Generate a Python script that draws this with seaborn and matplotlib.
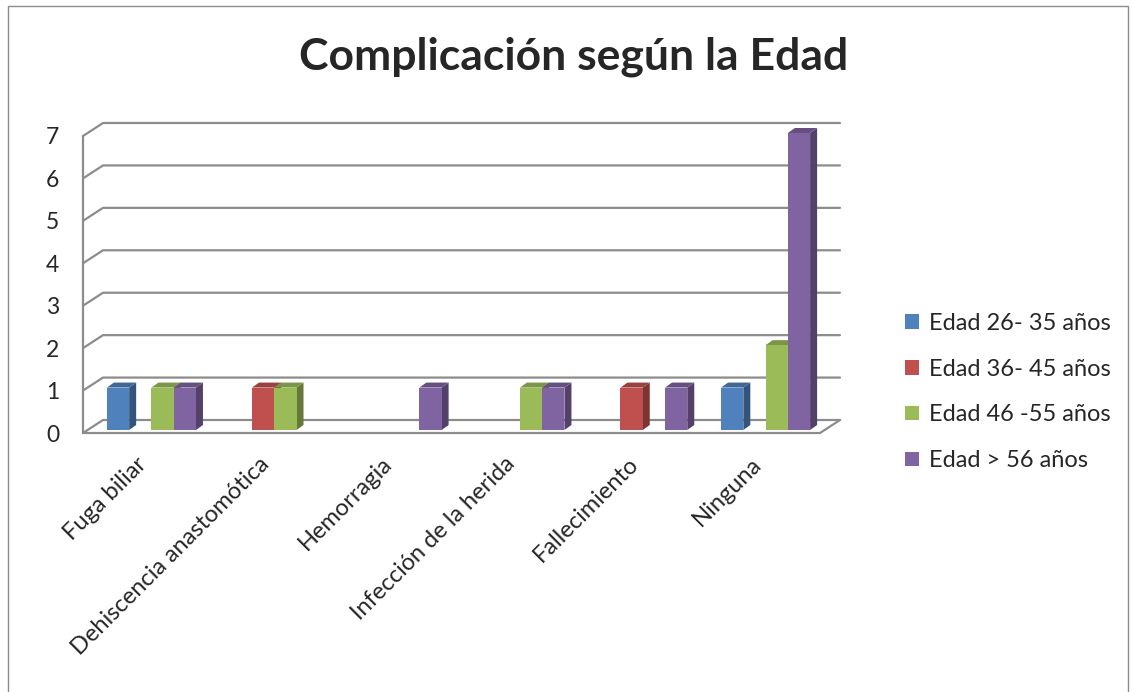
import numpy as np
import pandas as pd
import seaborn as sns
import matplotlib.pyplot as plt
from matplotlib.patches import Polygon, Rectangle, Patch
from matplotlib.lines import Line2D
from matplotlib.colors import to_rgb
from matplotlib.transforms import ScaledTranslation

complicaciones = ['Fuga biliar', 'Dehiscencia anastomótica', 'Hemorragia',
                  'Infección de la herida', 'Fallecimiento', 'Ninguna']
grupos = ['Edad 26- 35 años', 'Edad 36- 45 años', 'Edad 46 -55 años', 'Edad > 56 años']
edad_26_35 = [1, 0, 0, 0, 0, 1]
edad_36_45 = [0, 1, 0, 0, 1, 0]
edad_46_55 = [1, 1, 0, 1, 0, 2]
edad_56 = [1, 0, 1, 1, 1, 7]
colores = ['#4F81BD', '#C0504D', '#9BBB59', '#8064A2']
y_ticks = list(range(8))

sns.set_theme(style='white')
plt.rcParams['font.family'] = ['Lato', 'DejaVu Sans']

series = [edad_26_35, edad_36_45, edad_46_55, edad_56]
df = pd.DataFrame({
    'complicacion': complicaciones * len(grupos),
    'grupo': [g for g in grupos for _ in complicaciones],
    'casos': [v for s in series for v in s],
})

W, H = 1133, 692
fig = plt.figure(figsize=(W / 100, H / 100), dpi=100)
ax = fig.add_axes([90 / W, 262 / H, 737 / W, 297 / H])
ax.set_facecolor('none')

sns.barplot(data=df, x='complicacion', y='casos', hue='grupo', hue_order=grupos,
            order=complicaciones, palette=colores, width=0.725, saturation=1,
            linewidth=0, legend=False, ax=ax, zorder=3)
ax.set_xlim(-0.5, 5.5)
ax.set_ylim(0, 7)
sns.despine(ax=ax, left=True, bottom=True)
ax.set_xlabel('')
ax.set_ylabel('')
ax.set_yticks(y_ticks)
ax.set_yticklabels([str(t) for t in y_ticks], fontsize=16.5)
ax.tick_params(axis='y', length=0, pad=22)
ax.tick_params(axis='x', length=0, pad=22)
for lab in ax.get_yticklabels():
    lab.set_transform(lab.get_transform() + ScaledTranslation(0, -0.03, fig.dpi_scale_trans))
ax.set_xticks(range(len(complicaciones)))
ax.set_xticklabels(complicaciones, rotation=45, ha='right', va='center',
                   rotation_mode='anchor', fontsize=17)
for lab in ax.get_xticklabels():
    lab.set_transform(lab.get_transform() + ScaledTranslation(-0.08, 0, fig.dpi_scale_trans))

# pseudo 3D frame: front plane and back wall offsets in pixels
front_off = np.array([-7, -3])
back_off = np.array([13, 10])
to_fig = fig.transFigure.inverted().transform


def disp(x, y):
    return ax.transData.transform((x, y))


grid_kw = dict(color='#8c8c8c', lw=1.6, zorder=-1, solid_joinstyle='miter')
for k in y_ticks:
    fl = disp(-0.5, k) + front_off
    bl = disp(-0.5, k) + back_off
    br = disp(5.5, k) + back_off
    pts = to_fig(np.array([fl, bl, br]))
    fig.add_artist(Line2D(pts[:, 0], pts[:, 1], **grid_kw))

# floor and left wall edges
f0l = disp(-0.5, 0) + front_off
f0r = disp(5.5, 0) + front_off
b0r = disp(5.5, 0) + back_off
f7l = disp(-0.5, 7) + front_off
pts = to_fig(np.array([f7l, f0l, f0r, b0r]))
fig.add_artist(Line2D(pts[:, 0], pts[:, 1], **grid_kw))

# side and top faces of the bars
depth = np.array([7, 5])
inv = ax.transData.inverted()
for bar in ax.patches:
    h = bar.get_height()
    if h <= 0:
        continue
    x0, x1 = bar.get_x(), bar.get_x() + bar.get_width()
    c = np.array(to_rgb(bar.get_facecolor()))
    p00 = disp(x0, h)
    p10 = disp(x1, h)
    p11 = disp(x1, 0)
    side = [p11, p10, p10 + depth, p11 + depth]
    top = [p00, p10, p10 + depth, p00 + depth]
    ax.add_patch(Polygon(inv.transform(np.array(side)), closed=True, fc=c * 0.65,
                         lw=0, zorder=2.5, clip_on=False))
    ax.add_patch(Polygon(inv.transform(np.array(top)), closed=True, fc=c * 0.8,
                         lw=0, zorder=2.5, clip_on=False))

fig.text(574 / W, 1 - 57 / H, 'Complicación según la Edad', ha='center', va='center',
         fontsize=32, fontweight='bold')

handles = [Patch(facecolor=c, edgecolor='none') for c in colores]
fig.legend(handles, grupos, loc='center left', bbox_to_anchor=(905 / W, 1 - 392 / H),
           frameon=False, fontsize=17, handlelength=0.58, handleheight=0.58,
           handletextpad=0.45, labelspacing=1.05, borderpad=0, borderaxespad=0)

fig.add_artist(Rectangle((8 / W, -0.05), 1120 / W, 1 - 6 / H + 0.05, fill=False,
                         ec='#8c8c8c', lw=1, transform=fig.transFigure))

fig.savefig('out.png', dpi=100)
